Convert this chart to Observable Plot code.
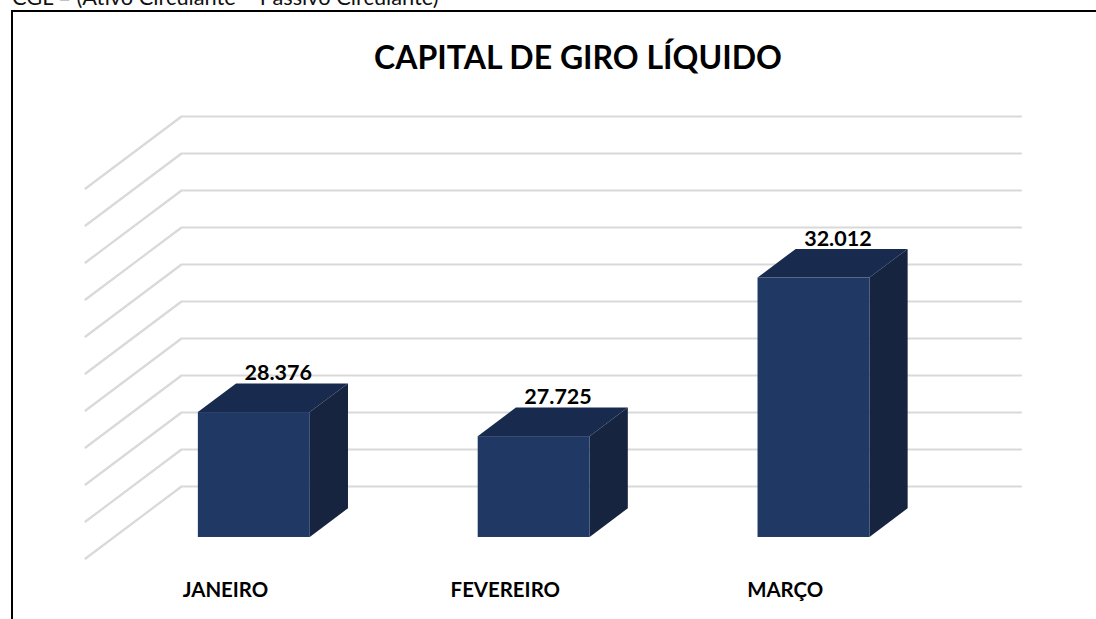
<!DOCTYPE html>
<html lang="pt-BR">
<head>
<meta charset="utf-8">
<script src="https://cdn.jsdelivr.net/npm/d3@7"></script>
<script src="https://cdn.jsdelivr.net/npm/@observablehq/plot@0.6"></script>
<style>
  html, body { margin: 0; padding: 0; background: #fff; }
  #page { position: relative; width: 1096px; height: 619px; overflow: hidden; font-family: Lato, sans-serif; color: #000; }
  #caption { position: absolute; left: 12px; top: -14px; font-size: 21.8px; line-height: 22px; white-space: nowrap; color: #111; }
  #box { position: absolute; left: 11px; top: 10px; right: -4px; bottom: -4px; border-top: 2px solid #000; border-left: 2px solid #000; }
  #title { position: absolute; left: 0; top: 39px; width: 1156px; text-align: center; font-size: 32px; line-height: 36px; font-weight: 700; white-space: nowrap; }
  #chart { position: absolute; left: 0; top: 0; }
  #chart svg { background: transparent; display: block; }
</style>
</head>
<body>
<div id="page">
  <div id="caption">CGL = (Ativo Circulante – Passivo Circulante)</div>
  <div id="box"></div>
  <div id="title">CAPITAL DE GIRO LÍQUIDO</div>
  <div id="chart"></div>
</div>
<script>
const categories = ["JANEIRO", "FEVEREIRO", "MARÇO"];
const values = [28376, 27725, 32012];
const gridTicks = [25000, 26000, 27000, 28000, 29000, 30000, 31000, 32000, 33000, 34000, 35000];
const baseValue = 25000;

// Oblique projection: depth t = 0 is the back wall, t = 1 the front of the floor.
const depthX = 96 / 280;   // in category units
const depthY = 72 / 37 * 1000; // in value units
const barFront = 0.708, barBack = 0.31, barLeft = 0.303, barRight = 0.703;
const px = (i, t) => i - t * depthX;
const py = (v, t) => v - t * depthY;

const fmt = d3.formatLocale({decimal: ",", thousands: ".", grouping: [3]}).format(",d");

const grid = gridTicks.flatMap(v => [
  {k: v, x: px(0, 1), y: py(v, 1)},
  {k: v, x: 0, y: v},
  {k: v, x: categories.length, y: v}
]);
const bars = categories.map((c, i) => ({c, i, v: values[i]}));
const front = bars.map(b => ({
  x1: px(b.i + barLeft, barFront), x2: px(b.i + barRight, barFront),
  y1: py(baseValue, barFront), y2: py(b.v, barFront)
}));
const side = bars.flatMap(b => [barFront, barBack].map(t => ({
  k: b.c, x: px(b.i + barRight, t), y1: py(baseValue, t), y2: py(b.v, t)
})));
const top_ = bars.flatMap(b => [barFront, barBack].map(t => ({
  k: b.c, y: py(b.v, t), x1: px(b.i + barLeft, t), x2: px(b.i + barRight, t)
})));

const plot = Plot.plot({
  width: 1096,
  height: 619,
  margin: 0,
  style: {background: "transparent", fontFamily: "Lato, sans-serif"},
  x: {domain: [0, categories.length], range: [181, 1020.5], axis: null},
  y: {domain: [25000, 35000], range: [486, 116], axis: null},
  marks: [
    Plot.line(grid, {x: "x", y: "y", z: "k", stroke: "#d9d9d9", strokeWidth: 2.2, strokeLinejoin: "miter"}),
    Plot.areaY(side, {x: "x", y1: "y1", y2: "y2", z: "k", fill: "#162440"}),
    Plot.areaX(top_, {y: "y", x1: "x1", x2: "x2", z: "k", fill: "#182b4e"}),
    Plot.rect(front, {x1: "x1", x2: "x2", y1: "y1", y2: "y2", fill: "#203864"}),
    Plot.text(bars, {
      x: b => px(b.i + 0.5, 0.45), y: b => py(b.v, barBack), text: b => fmt(b.v),
      dy: -10.5, fontSize: 21.5, fontWeight: 700, fill: "#000"
    }),
    Plot.text(bars, {
      x: b => px(b.i + 0.5, 1), y: () => baseValue, text: "c",
      dy: 104, fontSize: 20.4, fontWeight: 700, fill: "#000"
    })
  ]
});
document.getElementById("chart").append(plot);
</script>
</body>
</html>
